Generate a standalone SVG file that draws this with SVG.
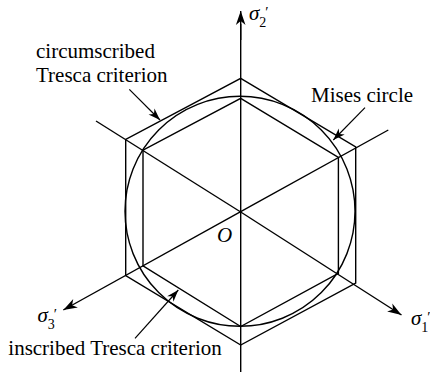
<svg xmlns="http://www.w3.org/2000/svg" width="430" height="372" viewBox="0 0 430 372">
<defs>
<style>
.ln{fill:none;stroke:#000;stroke-width:1.4}
.ax{fill:none;stroke:#000;stroke-width:1.4;marker-end:url(#ah)}
.ptr{fill:none;stroke:#000;stroke-width:1.2;marker-end:url(#ph)}
.t{font-family:"Liberation Serif","Times New Roman",serif;font-size:21px;fill:#000}
.sym{font-family:"Liberation Serif","Times New Roman",serif;font-size:21px;fill:#000;font-style:italic}
.sub{font-size:14px;font-style:normal}
.pr{font-size:15px;font-style:normal}
</style>
<marker id="ah" markerUnits="userSpaceOnUse" markerWidth="16" markerHeight="12" viewBox="-15 -6 16 12" refX="0" refY="0" orient="auto">
<path d="M0,0 L-14,-4.8 L-10,0 L-14,4.8 Z" fill="#000"/>
</marker>
<marker id="ph" markerUnits="userSpaceOnUse" markerWidth="14" markerHeight="10" viewBox="-13 -5 14 10" refX="0" refY="0" orient="auto">
<path d="M0,0 L-12,-4.2 L-8.5,0 L-12,4.2 Z" fill="#000"/>
</marker>
</defs>
<g id="axes">
<line class="ln" x1="240.7" y1="372" x2="240.7" y2="24"/>
<line class="ax" x1="240.7" y1="40" x2="240.7" y2="11"/>
<line class="ln" x1="96" y1="121" x2="240.7" y2="212"/>
<line class="ax" x1="240.7" y1="212" x2="401.5" y2="315"/>
<line class="ln" x1="388.3" y1="130" x2="240.7" y2="211.7"/>
<line class="ax" x1="240.7" y1="211.7" x2="63.3" y2="310"/>
</g>
<g id="circumscribed-hexagon">
<polygon class="ln" points="240.7,78.3 355.7,147 355.7,283 240.7,345 125.7,275.5 125.7,139.5"/>
</g>
<g id="inscribed-hexagon">
<polygon class="ln" points="240.7,98.3 338.4,157.5 338.4,273.3 240.7,326.5 143,265.9 143,150.2"/>
</g>
<g id="mises-circle">
<circle class="ln" cx="240" cy="211.3" r="115"/>
</g>
<g id="connectors">
<line class="ptr" x1="129.3" y1="89.3" x2="160" y2="120"/>
<line class="ptr" x1="365" y1="107.7" x2="333.3" y2="140"/>
<line class="ptr" x1="135" y1="338.3" x2="178.3" y2="290"/>
</g>
<g id="labels">
<text class="t"><tspan x="36" y="57.8">circumscribed</tspan><tspan x="36" y="81.5">Tresca criterion</tspan></text>
<text class="t" x="311" y="102.3">Mises circle</text>
<text class="t" x="8.3" y="355">inscribed Tresca criterion</text>
<text class="sym" x="217" y="242">O</text>
</g>
<g id="axis-labels">
<text class="sym" x="249" y="20">σ<tspan class="sub" dy="7">2</tspan><tspan class="pr" dy="-10" dx="-1">′</tspan></text>
<text class="sym" x="411" y="325">σ<tspan class="sub" dy="7">1</tspan><tspan class="pr" dy="-10" dx="-1">′</tspan></text>
<text class="sym" x="37.5" y="322">σ<tspan class="sub" dy="7">3</tspan><tspan class="pr" dy="-10" dx="-1">′</tspan></text>
</g>
</svg>
